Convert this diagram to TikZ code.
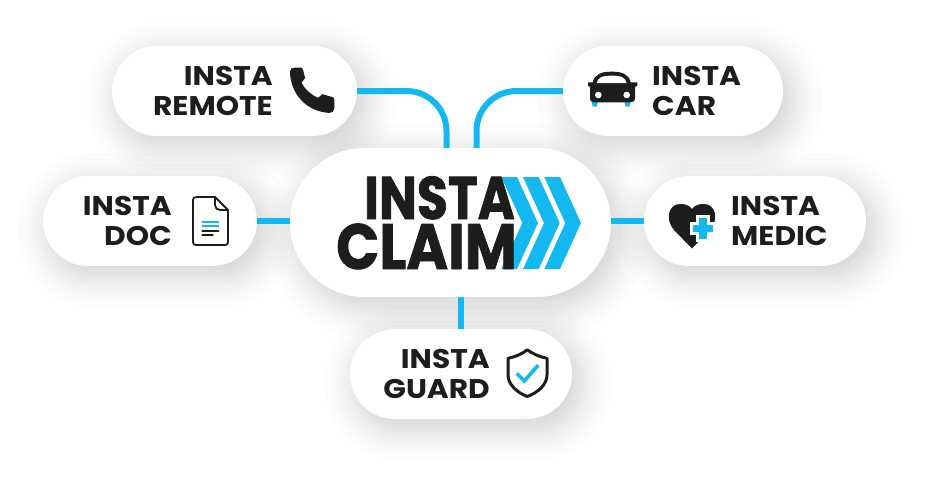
\documentclass[tikz,border=0pt]{standalone}
\usepackage{fontspec}
\setmainfont{Poppins}
\newfontfamily\logofont[BoldFeatures={FakeBold=1.3}]{Poppins}
\usetikzlibrary{backgrounds}
\definecolor{instablue}{RGB}{20,184,240}
\definecolor{instablack}{RGB}{29,29,27}
\tikzset{
  pill/.style={fill=white,inner sep=0pt,minimum height=90pt,rounded corners=45pt},
  pilltext/.style={inner sep=0pt,text=instablack,font=\fontsize{27}{30}\selectfont\bfseries,transform shape,xscale=1.1},
  logotext/.style={inner sep=0pt,text=instablack,anchor=base east,transform shape},
  link/.style={draw=instablue,line width=6pt,rounded corners=40pt},
  softshadow/.style={fill=black,opacity=.0105},
  iconline/.style={draw=instablack,line width=1.8pt,line join=round,line cap=round,fill=none},
  blueline/.style={draw=instablue,line width=1.8pt,line cap=round}
}
\begin{document}
\begin{tikzpicture}[x=1pt,y=-1pt]
\useasboundingbox (0,0) rectangle (931,480);
% pills
\node[pill,minimum width=245pt] (remote) at (234.5,91) {};
\node[pill,minimum width=220pt] (car) at (673,91) {};
\node[pill,minimum width=214pt] (doc) at (150,221) {};
\node[pill,minimum width=222pt] (medic) at (755,221) {};
\node[pill,minimum width=222pt] (guard) at (461,374) {};
\node[pill,minimum width=321pt,minimum height=149pt,rounded corners=74.5pt] (claim) at (450.5,222.5) {};
% labels
\node[pilltext,align=right,anchor=east] (remotetext) at (273,90.5) {INSTA\\REMOTE};
\node[pilltext,align=left,anchor=west] (cartext) at (652,90.5) {INSTA\\CAR};
\node[pilltext,align=right,anchor=east] (doctext) at (172,220.5) {INSTA\\DOC};
\node[pilltext,align=left,anchor=west] (medictext) at (731,220.5) {INSTA\\MEDIC};
\node[pilltext,align=right,anchor=east] (guardtext) at (490,374) {INSTA\\GUARD};
% logo
\foreach \x in {0,21.7,43} {
  \fill[instablue] (501.3+\x,177) -- (517+\x,177) -- (538+\x,223) -- (517+\x,269) -- (501.3+\x,269) -- (522.3+\x,223) -- cycle;
}
\node[logotext,font=\fontsize{60}{60}\selectfont\logofont\bfseries,xscale=.84] (logotop) at (515,219) {INSTA};
\node[logotext,font=\fontsize{64}{64}\selectfont\logofont\bfseries,xscale=.885] (logobottom) at (517,269) {CLAIM};
% phone
\begin{scope}[shift={(284.6,60)},scale=.36]
\fill[instablack] (15,32) .. controls (15,24) and (21,21) .. (29,21) -- (46,21) .. controls (49,21) and (50,23) .. (51,26) -- (57,50) -- (47,63) .. controls (55,80) and (75,98) .. (93,105) -- (105,95) -- (133,103) .. controls (137,104) and (138,107) .. (138,111) -- (138,135) .. controls (138,143) and (132,147) .. (124,147) .. controls (58,143) and (16,92) .. (15,32) -- cycle;
\end{scope}
% car
\begin{scope}[shift={(580,65)},scale=1/3]
\fill[instablue] (35,108) -- (54,108) -- (50,125) -- (38,125) -- cycle;
\fill[instablue] (133,108) -- (152,108) -- (149,125) -- (137,125) -- cycle;
\fill[instablack] (30,66) -- (24,62) -- (24,52) -- (38,52) .. controls (44,28) and (62,20) .. (95,20) .. controls (128,20) and (146,28) .. (152,52) -- (172,52) -- (172,62) -- (165,66) -- (165,98) .. controls (165,108) and (160,112) .. (150,112) -- (45,112) .. controls (35,112) and (30,108) .. (30,98) -- cycle;
\fill[white] (50,54) .. controls (54,38) and (65,32) .. (95,32) .. controls (125,32) and (136,38) .. (140,54) -- cycle;
\fill[white] (55,90) circle[radius=10];
\fill[white] (140,90) circle[radius=10];
\end{scope}
% doc
\draw[iconline] (197,197) -- (215,197) -- (228,210) -- (228,242) .. controls (228,244) and (227,245) .. (225,245) -- (196,245) .. controls (194,245) and (193,244) .. (193,242) -- (193,200) .. controls (193,198) and (194,197) .. (197,197) -- cycle;
\draw[iconline] (215,197) -- (215,205) .. controls (215,208) and (217,210) .. (220,210) -- (228,210);
\foreach \y in {221.7,226} { \draw[blueline] (202.3,\y) -- (218.5,\y); }
\draw[iconline] (202.3,230.7) -- (218.5,230.7);
\draw[iconline] (202.3,235) -- (213,235);
% heart
\fill[instablack] (692,248.5) -- (674,230) .. controls (665,220) and (668,204) .. (680,204) .. controls (685,204) and (689,205) .. (692,209) .. controls (695,205) and (699,204) .. (704,204) .. controls (716,204) and (719,220) .. (710,230) -- cycle;
\fill[white] (696.3,215) rectangle (709.7,242);
\fill[white] (690,221.8) rectangle (716,235.2);
\fill[instablue] (699.3,218) rectangle (706.7,239);
\fill[instablue] (693,224.8) rectangle (713,232.2);
% shield
\draw[iconline,line width=3pt] (527.3,349.8) .. controls (533,354) and (540,357) .. (547,358.3) -- (547,375) .. controls (547,385) and (537,393) .. (527.3,396.5) .. controls (518,393) and (508,385) .. (508,375) -- (508,358.3) .. controls (515,357) and (522,354) .. (527.3,349.8) -- cycle;
\draw[blueline,line width=3.6pt,line cap=butt] (516.7,373.3) -- (524.3,381) -- (538.3,365);
% shadows and connectors go under the pills
\begin{pgfonlayer}{background}
\fill[white] (0,0) rectangle (931,480);
\foreach \n/\r in {remote/45,car/45,doc/45,medic/45,guard/45,claim/74.5} {
  \foreach \s in {-14,-11,-8,-5,-2,1,4,7,10,13,17,21,26,32} {
    \pgfmathsetmacro{\rad}{\r+\s}
    \fill[softshadow,rounded corners=\rad pt] ([shift={(7-\s,9-\s)}]\n.north west) rectangle ([shift={(7+\s,9+\s)}]\n.south east);
  }
}
\draw[link] (remote.east) -| ([xshift=-4pt]claim.north);
\draw[link] (car.west) -| ([xshift=26pt]claim.north);
\draw[link] (doc.east) -- (doc.east -| claim.west);
\draw[link] (medic.west) -- (medic.west -| claim.east);
\draw[link] (guard.north) -- (guard.north |- claim.south);
\end{pgfonlayer}
\end{tikzpicture}
\end{document}
